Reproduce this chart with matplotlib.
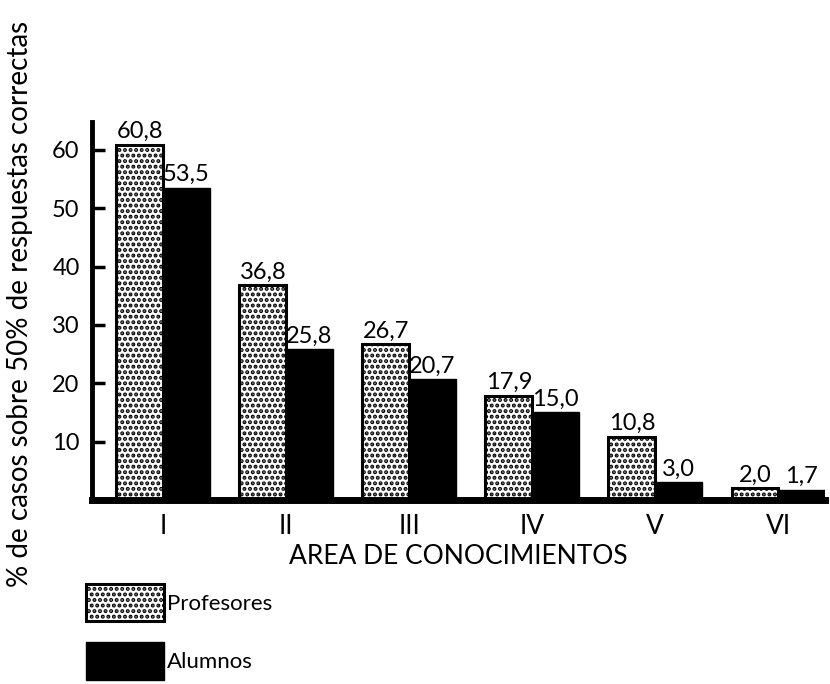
import numpy as np
import matplotlib.pyplot as plt
from matplotlib.patches import Patch

plt.rcParams['font.family'] = ['Lato', 'DejaVu Sans']
plt.rcParams['hatch.linewidth'] = 2.0

areas = ['I', 'II', 'III', 'IV', 'V', 'VI']
profesores = [60.8, 36.8, 26.7, 17.9, 10.8, 2.0]
alumnos = [53.5, 25.8, 20.7, 15.0, 3.0, 1.7]
prof_labels = ['60,8', '36,8', '26,7', '17,9', '10,8', '2,0']
alum_labels = ['53,5', '25,8', '20,7', '15,0', '3,0', '1,7']

fig = plt.figure(figsize=(8.3, 6.84), dpi=100)
ax = fig.add_axes([0.111, 0.269, 0.883, 0.553])

x = np.arange(len(areas))
w = 0.38
b1 = ax.bar(x - w / 2, profesores, w, color='white', edgecolor='black',
            hatch='...', linewidth=2.2)
b2 = ax.bar(x + w / 2, alumnos, w, color='black', edgecolor='black', linewidth=1)

for rect, lab in zip(b1, prof_labels):
    ax.annotate(lab, (rect.get_x() + rect.get_width() / 2, rect.get_height()),
                xytext=(0, 2), textcoords='offset points', ha='center', va='bottom',
                fontsize=17)
for rect, lab in zip(b2, alum_labels):
    ax.annotate(lab, (rect.get_x() + rect.get_width() / 2, rect.get_height()),
                xytext=(0, 2), textcoords='offset points', ha='center', va='bottom',
                fontsize=17)

ax.set_xlim(-0.577, 5.38)
ax.set_ylim(0, 64.8)
ax.set_yticks([10, 20, 30, 40, 50, 60])
ax.set_xticks(x)
ax.set_xticklabels(areas, fontsize=19)
ax.tick_params(axis='y', direction='in', length=9, width=2.5, pad=9, labelsize=17)
ax.tick_params(axis='x', length=0, pad=10)

for s in ['top', 'right']:
    ax.spines[s].set_visible(False)
ax.spines['left'].set_linewidth(3.5)
ax.spines['bottom'].set_linewidth(5)

ax.set_xlabel('AREA DE CONOCIMIENTOS', fontsize=19, labelpad=4)
fig.text(0.024, 0.556, '% de casos sobre 50% de respuestas correctas',
         rotation=90, ha='center', va='center', fontsize=20)

handles = [Patch(facecolor='white', edgecolor='black', hatch='...', linewidth=2.2),
           Patch(facecolor='black', edgecolor='black')]
fig.legend(handles, ['Profesores', 'Alumnos'], loc='upper left',
           bbox_to_anchor=(0.104, 0.146), frameon=False, fontsize=16,
           handlelength=3.5, handleheight=2.2, handletextpad=0.15,
           labelspacing=0.95, borderaxespad=0, borderpad=0)

fig.savefig('out.png', dpi=100)
